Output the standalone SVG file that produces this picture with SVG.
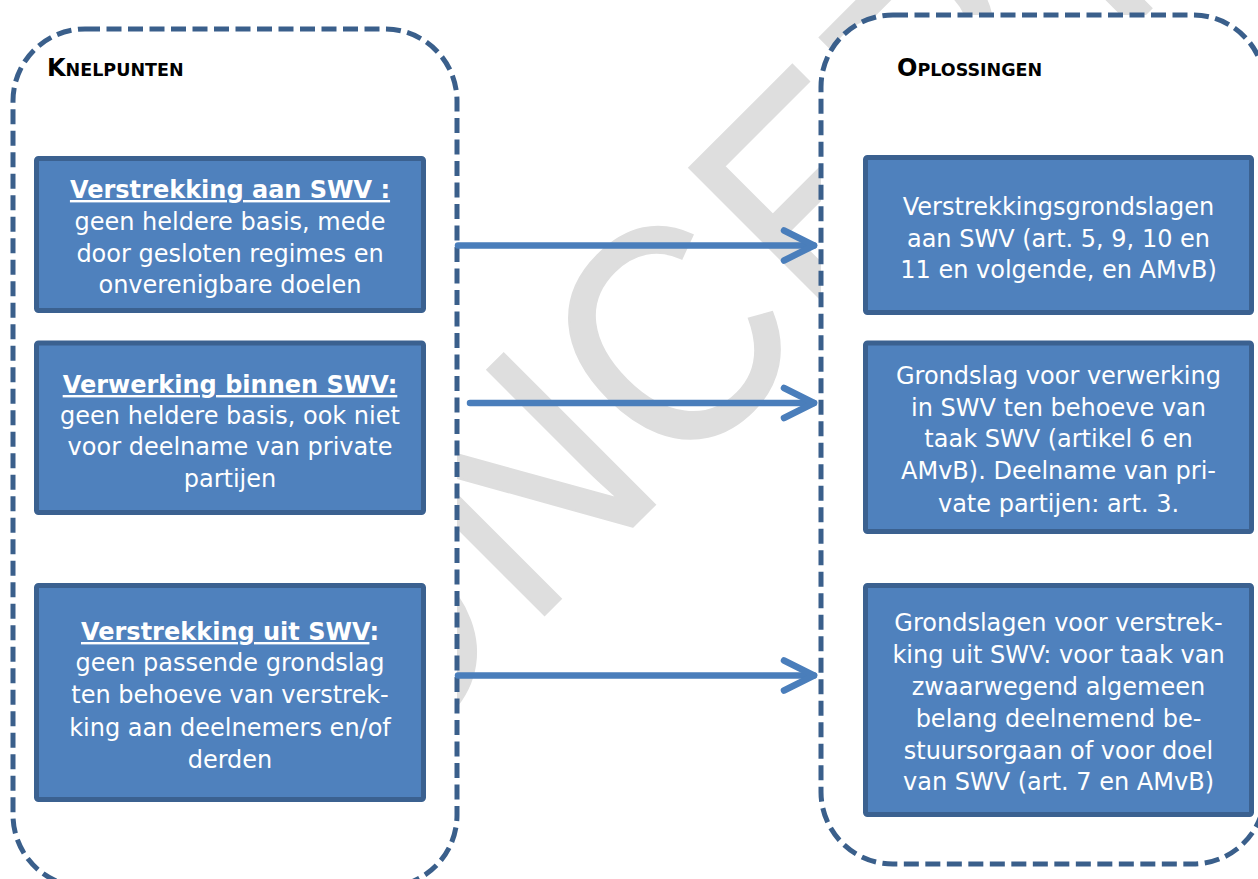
<svg xmlns="http://www.w3.org/2000/svg" width="1258" height="879" viewBox="0 0 1258 879">
<style>
.panel{fill:#ffffff;stroke:#3a5f8b;stroke-width:5;stroke-dasharray:15 6.5}
.box{fill:#4f81bd;stroke:#3b6190;stroke-width:5}
.title{font-family:"DejaVu Sans",Verdana,sans-serif;font-weight:bold;font-size:24px;fill:#000}
.t{font-family:"DejaVu Sans",Verdana,sans-serif;font-size:24px;fill:#ffffff;text-anchor:middle}
.h{font-weight:bold}
.u{text-decoration:underline}
.arrow{stroke:#4a7ebb;stroke-width:6.5;fill:none;stroke-linecap:round;stroke-linejoin:round}
.wm{font-family:"Liberation Sans",Arial,sans-serif;font-size:311px;fill:#dedede}
</style>
<defs>
<marker id="head" markerUnits="userSpaceOnUse" markerWidth="50" markerHeight="50" refX="0" refY="0" viewBox="-40 -25 50 50" orient="auto" overflow="visible">
<path d="M-30,-15 L0,0 L-30,15" fill="none" stroke="#4a7ebb" stroke-width="6.5" stroke-linecap="round" stroke-linejoin="round"/>
</marker>
</defs>
<rect width="1258" height="879" fill="#ffffff"/>
<g id="watermark">
<text class="wm" transform="rotate(-45) scale(0.9 1)" x="-566 -332 -81 149 384 589 789" y="820" stroke="#dedede" stroke-width="2">CONCEPT</text>
</g>
<g id="knelpunten">
<rect class="panel" x="13" y="29" width="444" height="858" rx="72" ry="72"/>
<text class="title" x="47" y="76">K<tspan font-size="17.5">NELPUNTEN</tspan></text>
</g>
<g id="oplossingen">
<rect class="panel" x="821" y="15" width="444" height="849" rx="72" ry="72"/>
<text class="title" x="897" y="76">O<tspan font-size="17.5">PLOSSINGEN</tspan></text>
</g>
<g id="k1">
<rect class="box" x="36.5" y="158.5" width="387" height="152" rx="2"/>
<text class="t" x="230" y="198"><tspan class="h u">Verstrekking aan SWV :</tspan></text>
<text class="t" x="230" y="230">geen heldere basis, mede</text>
<text class="t" x="230" y="262">door gesloten regimes en</text>
<text class="t" x="230" y="293">onverenigbare doelen</text>
</g>
<g id="k2">
<rect class="box" x="36.5" y="343" width="387" height="169.5" rx="2"/>
<text class="t" x="230" y="393"><tspan class="h u">Verwerking binnen SWV:</tspan></text>
<text class="t" x="230" y="424">geen heldere basis, ook niet</text>
<text class="t" x="230" y="455">voor deelname van private</text>
<text class="t" x="230" y="487">partijen</text>
</g>
<g id="k3">
<rect class="box" x="36.5" y="585.5" width="387" height="214" rx="2"/>
<text class="t" x="230" y="640"><tspan class="h u">Verstrekking uit SWV</tspan><tspan class="h">:</tspan></text>
<text class="t" x="230" y="671">geen passende grondslag</text>
<text class="t" x="230" y="703">ten behoeve van verstrek-</text>
<text class="t" x="230" y="736">king aan deelnemers en/of</text>
<text class="t" x="230" y="768">derden</text>
</g>
<g id="o1">
<rect class="box" x="865.5" y="157.5" width="386" height="155" rx="2"/>
<text class="t" x="1058.5" y="215">Verstrekkingsgrondslagen</text>
<text class="t" x="1058.5" y="247">aan SWV (art. 5, 9, 10 en</text>
<text class="t" x="1058.5" y="278">11 en volgende, en AMvB)</text>
</g>
<g id="o2">
<rect class="box" x="865.5" y="343" width="386" height="188.5" rx="2"/>
<text class="t" x="1058.5" y="384">Grondslag voor verwerking</text>
<text class="t" x="1058.5" y="416">in SWV ten behoeve van</text>
<text class="t" x="1058.5" y="447">taak SWV (artikel 6 en</text>
<text class="t" x="1058.5" y="479">AMvB). Deelname van pri-</text>
<text class="t" x="1058.5" y="512">vate partijen: art. 3.</text>
</g>
<g id="o3">
<rect class="box" x="865.5" y="585.5" width="386" height="229" rx="2"/>
<text class="t" x="1058.5" y="631">Grondslagen voor verstrek-</text>
<text class="t" x="1058.5" y="663">king uit SWV: voor taak van</text>
<text class="t" x="1058.5" y="695">zwaarwegend algemeen</text>
<text class="t" x="1058.5" y="727">belang deelnemend be-</text>
<text class="t" x="1058.5" y="759">stuursorgaan of voor doel</text>
<text class="t" x="1058.5" y="790">van SWV (art. 7 en AMvB)</text>
</g>
<g id="connectors">
<line class="arrow" x1="458" y1="245.5" x2="814" y2="245.5" marker-end="url(#head)"/>
<line class="arrow" x1="470" y1="403" x2="814" y2="403" marker-end="url(#head)"/>
<line class="arrow" x1="458" y1="675.5" x2="814" y2="675.5" marker-end="url(#head)"/>
</g>
</svg>
